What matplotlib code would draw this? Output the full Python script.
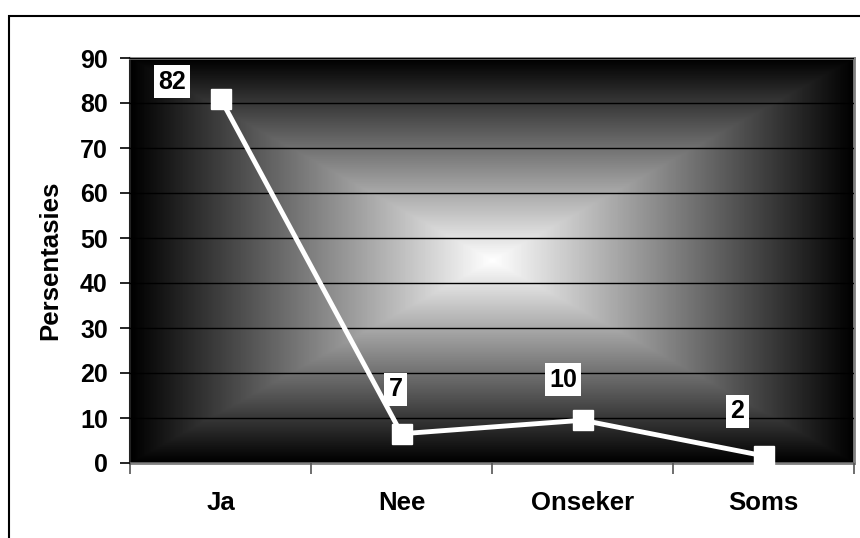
import numpy as np
import matplotlib
matplotlib.use('Agg')
from matplotlib import pyplot as plt
from matplotlib.patches import Rectangle

plt.rcParams['font.family'] = ['Liberation Sans', 'DejaVu Sans']
plt.rcParams['font.weight'] = 'bold'

categories = ['Ja', 'Nee', 'Onseker', 'Soms']
values = [81.0, 6.5, 9.5, 1.6]
value_labels = ['82', '7', '10', '2']
yticks = [0, 10, 20, 30, 40, 50, 60, 70, 80, 90]

fig = plt.figure(figsize=(8.6, 5.38), dpi=100)
fig.patch.set_facecolor('white')

# outer chart frame (runs off the right and bottom of the picture)
fig.patches.append(Rectangle((9 / 860, -0.2), 1.2, 0.9703 + 0.2, transform=fig.transFigure,
                             fill=False, ec='black', lw=1.5, clip_on=False))

ax = fig.add_axes([130 / 860, 75 / 538, 724 / 860, 405 / 538])

# "from centre" gradient background, white middle to black edges
u = np.linspace(-1, 1, 400)
v = np.linspace(-1, 1, 300)
U, V = np.meshgrid(u, v)
t = np.maximum(np.abs(U), np.abs(V))
bg = 1 - t
ax.imshow(bg, cmap='gray', vmin=0, vmax=1, extent=[0, 1, 0, 1], transform=ax.transAxes,
          aspect='auto', zorder=0, interpolation='bilinear')

x = np.arange(len(categories))
ax.plot(x, values, color='white', lw=3.5, marker='s', markersize=14, zorder=5, clip_on=False)

offsets = [(-35, 12), (-4, 32), (-14, 29), (-19, 32)]
for xi, yi, lab, off in zip(x, values, value_labels, offsets):
    ax.annotate(lab, (xi, yi), xytext=off, textcoords='offset points', ha='center', va='center',
                fontsize=18, fontweight='bold', color='black', zorder=6,
                bbox=dict(boxstyle='square,pad=0.18', fc='white', ec='none'))

ax.set_xlim(-0.5, len(categories) - 0.5)
ax.set_ylim(0, 90)
ax.set_yticks(yticks)
ax.set_yticklabels([str(y) for y in yticks], fontsize=18, fontweight='bold')
ax.set_xticks(np.arange(len(categories) + 1) - 0.5)
ax.set_xticklabels([])
ax.set_xticks(x, minor=True)
ax.set_xticklabels(categories, minor=True, fontsize=18.5, fontweight='bold')
ax.tick_params(axis='x', which='minor', length=0, pad=20)
ax.tick_params(axis='x', which='major', length=8, width=1.2, color='#555555')
ax.tick_params(axis='y', length=7, width=1.2, color='black', pad=9)

ax.set_ylabel('Persentasies', fontsize=18.5, fontweight='bold', labelpad=13)

ax.grid(axis='y', color='black', lw=1)
ax.set_axisbelow(False)
for gl in ax.get_ygridlines():
    gl.set_zorder(1)

for s in ['top', 'right', 'bottom']:
    ax.spines[s].set_color('#808080')
    ax.spines[s].set_linewidth(2)
ax.spines['left'].set_color('#222222')
ax.spines['left'].set_linewidth(1.5)

plt.savefig('out.png', dpi=100)
